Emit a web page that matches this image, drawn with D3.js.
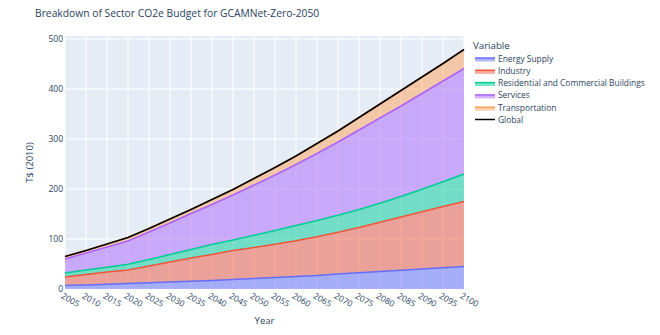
<html>
<head>
<script src="https://d3js.org/d3.v7.min.js"></script>
<style>
  body { margin: 0; background: #fff; }
  text { font-family: "Open Sans", verdana, arial, sans-serif; fill: #2a3f5f; }
  .grid line { stroke: #fff; stroke-width: 1px; }
</style>
</head>
<body>
<svg id="chart" width="660" height="335"></svg>
<script>
// values (T$ 2010)
var years = [2005, 2010, 2015, 2020, 2025, 2030, 2035, 2040, 2045, 2050,
             2055, 2060, 2065, 2070, 2075, 2080, 2085, 2090, 2095, 2100];
var energySupply   = [7, 8, 9.5, 11, 12.5, 14, 15.5, 17, 19, 21, 23, 25, 27, 30, 32.5, 35, 37.5, 40, 42.5, 45];
var industry       = [17, 21, 24.5, 27, 33.5, 40, 46.5, 52, 58, 62, 66.5, 71.5, 77.5, 83.5, 90.5, 98.5, 106.5, 114.5, 122.5, 130];
var residential    = [8, 9, 9.5, 11.5, 13, 15, 17, 20, 21, 24.5, 27.5, 30.5, 32.5, 34, 36, 38, 41, 45, 49.5, 55];
var services       = [28, 34, 40.5, 46.5, 55, 63, 72, 80, 90, 100.5, 111, 122, 134, 146.5, 159, 170.5, 181, 191.5, 201.5, 211];
var transportation = [5, 5, 6, 7, 7, 8, 8, 10, 11, 13, 15, 17, 20, 22, 25, 28, 31, 33, 35, 38];
var global         = [65, 77, 90, 103, 121, 140, 159, 179, 199, 221, 243, 266, 291, 316, 343, 370, 397, 424, 451, 479];

var seriesNames = ["Energy Supply", "Industry", "Residential and Commercial Buildings", "Services", "Transportation"];
var seriesColors = ["#636efa", "#EF553B", "#00cc96", "#ab63fa", "#FFA15A"];
var seriesValues = [energySupply, industry, residential, services, transportation];
var yTicks = [0, 100, 200, 300, 400, 500];

var svg = d3.select("#chart");
var mLeft = 65, mRight = 464, mTop = 36, mBottom = 289;

var x = d3.scaleLinear().domain([2005, 2100]).range([mLeft, mRight]);
var y = d3.scaleLinear().domain([0, 506]).range([mBottom, mTop]);

// table for the stack
var rows = years.map(function(yr, i) {
  var r = { year: yr };
  seriesNames.forEach(function(n, k) { r[n] = seriesValues[k][i]; });
  return r;
});
var stacked = d3.stack().keys(seriesNames)(rows);

// background + grid
svg.append("rect").attr("x", mLeft).attr("y", mTop)
  .attr("width", mRight - mLeft).attr("height", mBottom - mTop).attr("fill", "#E5ECF6");

var grid = svg.append("g").attr("class", "grid");
grid.selectAll(".vg").data(years).enter().append("line")
  .attr("x1", d => x(d)).attr("x2", d => x(d))
  .attr("y1", mTop).attr("y2", mBottom);
grid.selectAll(".hg").data(yTicks).enter().append("line")
  .attr("x1", mLeft).attr("x2", mRight)
  .attr("y1", d => y(d)).attr("y2", d => y(d));

// areas
var area = d3.area()
  .x((d, i) => x(years[i]))
  .y0(d => y(d[0]))
  .y1(d => y(d[1]));
var topLine = d3.line()
  .x((d, i) => x(years[i]))
  .y(d => y(d[1]));

svg.append("g").selectAll("path").data(stacked).enter().append("path")
  .attr("d", area)
  .attr("fill", (d, i) => seriesColors[i])
  .attr("fill-opacity", 0.5);

svg.append("g").selectAll("path").data(stacked).enter().append("path")
  .attr("d", topLine)
  .attr("fill", "none")
  .attr("stroke", (d, i) => seriesColors[i])
  .attr("stroke-width", 1.5);

// global line
svg.append("path")
  .datum(global)
  .attr("d", d3.line().x((d, i) => x(years[i])).y(d => y(d)))
  .attr("fill", "none")
  .attr("stroke", "#000")
  .attr("stroke-width", 1.6);

// y axis labels
svg.append("g").selectAll("text").data(yTicks).enter().append("text")
  .attr("x", mLeft - 2).attr("y", d => y(d)).attr("dy", "0.35em")
  .attr("text-anchor", "end")
  .style("font-size", "8.5px")
  .text(d => d);

// x axis labels, rotated
svg.append("g").selectAll("text").data(years).enter().append("text")
  .attr("transform", d => "translate(" + (x(d) - 3) + "," + 295 + ") rotate(30)")
  .attr("dy", "0.35em")
  .style("font-size", "8.5px")
  .text(d => d);

// titles
svg.append("text").attr("x", 35).attr("y", 17)
  .style("font-size", "10.3px").text("Breakdown of Sector CO2e Budget for GCAMNet-Zero-2050");
svg.append("text").attr("x", (mLeft + mRight) / 2).attr("y", 324)
  .attr("text-anchor", "middle").style("font-size", "9.5px").text("Year");
svg.append("text")
  .attr("transform", "translate(33," + ((mTop + mBottom) / 2) + ") rotate(-90)")
  .attr("text-anchor", "middle").style("font-size", "9.5px").text("T$ (2010)");

// legend
var legend = svg.append("g");
legend.append("text").attr("x", 473).attr("y", 49).style("font-size", "9.7px").text("Variable");
var legendNames = seriesNames.concat(["Global"]);
var legendColors = seriesColors.concat(["#000"]);
var item = legend.selectAll(".item").data(legendNames).enter().append("g")
  .attr("transform", (d, i) => "translate(475," + (59 + i * 12.3) + ")");
item.filter((d, i) => i < 5).append("rect")
  .attr("x", 0).attr("y", -1).attr("width", 20).attr("height", 3.5)
  .attr("fill", (d, i) => legendColors[i]).attr("fill-opacity", 0.5);
item.append("line")
  .attr("x1", 0).attr("x2", 20).attr("y1", -1).attr("y2", -1)
  .attr("stroke", (d, i) => legendColors[i]).attr("stroke-width", 1.5);
item.append("text").attr("x", 23).attr("dy", "0.3em")
  .style("font-size", "8.4px").text(d => d);
</script>
</body>
</html>
